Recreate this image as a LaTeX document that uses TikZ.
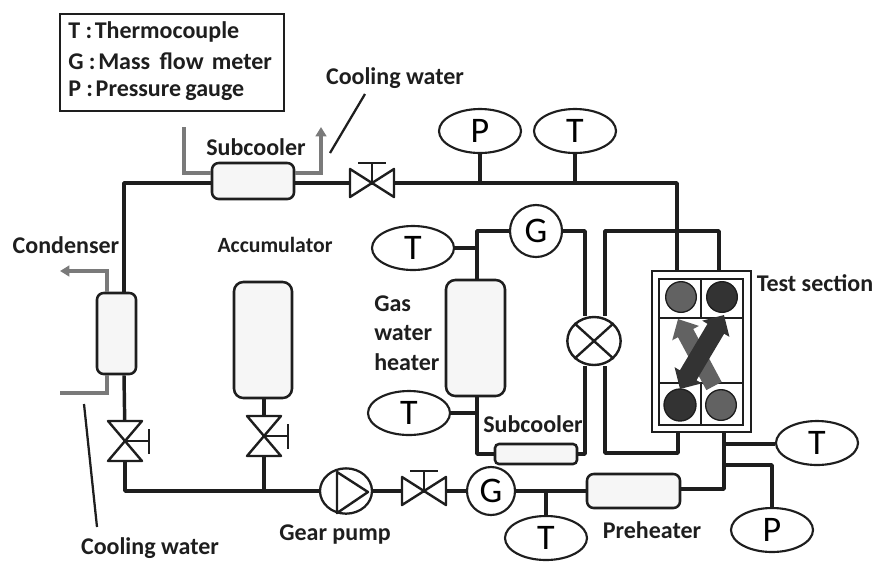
\documentclass[tikz,border=0pt]{standalone}
\usepackage{fontspec}
\setmainfont{Carlito}
\usetikzlibrary{shapes.geometric,arrows.meta}
\definecolor{ink}{HTML}{1E1E1E}
\definecolor{coolgray}{HTML}{7A7A7A}
\definecolor{boxfill}{HTML}{F6F6F6}
\definecolor{darkdot}{HTML}{333333}
\definecolor{graydot}{HTML}{626262}
\tikzset{
  x=0.75pt,y=-0.75pt,
  pipe/.style={draw=ink,line width=2.6pt,line join=round},
  thin pipe/.style={draw=ink,line width=1.8pt,line join=round},
  cool/.style={draw=coolgray,line width=2.3pt,line join=miter},
  coolarrow/.style={cool,-{Triangle[length=7pt,width=8pt]}},
  leader/.style={draw=ink,line width=1.7pt},
  vessel/.style={draw=ink,line width=1.9pt,fill=boxfill,rounded corners=5pt,inner sep=0pt,anchor=center},
  gauge/.style={ellipse,draw=ink,line width=1.6pt,fill=white,inner sep=0pt,minimum width=61.5pt,minimum height=33pt,font=\fontsize{27}{27}\selectfont},
  meter/.style={circle,draw=ink,line width=1.6pt,fill=white,inner sep=0pt,minimum size=36pt,font=\fontsize{27}{27}\selectfont},
  label/.style={font=\bfseries\fontsize{18}{18}\selectfont,text=ink,inner sep=0pt},
  dot/.style={circle,inner sep=0pt,minimum size=23pt,draw=ink,line width=1pt},
  hvalve/.pic={
    \draw[thin pipe,fill=white] (-22,-14) -- (22,14) -- (22,-14) -- (-22,14) -- cycle;
    \draw[thin pipe] (0,0) -- (0,-20) (-14,-20) -- (14,-20);
  },
  vvalve/.pic={
    \draw[thin pipe,fill=white] (-17,-20) -- (17,20) -- (-17,20) -- (17,-20) -- cycle;
    \draw[thin pipe] (0,0) -- (24,0) (24,-12) -- (24,13);
  }
}
\begin{document}
\begin{tikzpicture}
\useasboundingbox (0,0) rectangle (873,562);

% legend
\node[draw=ink,line width=1.8pt,minimum width=168pt,minimum height=72.75pt,inner sep=0pt] (legend) at (172,62.5) {};
\node[label,anchor=west] (lt) at (68,32) {T :\hspace{2pt}Thermocouple};
\node[label,anchor=west] (lg) at (68,61.5) {G :\hspace{2pt}Mass\hspace{3pt} flow\hspace{2pt} meter};
\node[label,anchor=west] (lp) at (68,90.5) {P :\hspace{2pt}Pressure\hspace{-1pt} gauge};

% coordinates of the pipe run
\coordinate (tl) at (124,183);
\coordinate (bl) at (125,491);
\coordinate (hvA) at (372,183);
\coordinate (hvB) at (424,491);
\coordinate (vvA) at (125,441);
\coordinate (vvB) at (264,436);
\coordinate (jP) at (480,183);
\coordinate (jT) at (575,183);
\coordinate (jAcc) at (264,491);
\coordinate (jT3) at (546,491);

% vessels
\node[vessel,minimum width=61.5pt,minimum height=27pt] (sub1) at (253,181) {};
\node[vessel,minimum width=29.25pt,minimum height=60.75pt] (cond) at (116.5,333.5) {};
\node[vessel,minimum width=43.5pt,minimum height=87pt,rounded corners=7pt] (acc) at (263,340) {};
\node[vessel,minimum width=44.25pt,minimum height=87pt,rounded corners=7pt] (heater) at (475.5,338) {};
\node[vessel,minimum width=61.5pt,minimum height=15pt,rounded corners=3pt] (sub2) at (536,454) {};
\node[vessel,minimum width=69.75pt,minimum height=25.5pt] (pre) at (633.5,491) {};

% gauges
\node[gauge] (Ptop) at (480,131) {P};
\node[gauge] (Ttop) at (575,131) {T};
\node[gauge] (Th1) at (413,248) {T};
\node[gauge] (Th2) at (409,413) {T};
\node[gauge] (Tout) at (817,443) {T};
\node[gauge] (Pout) at (772,530) {P};
\node[gauge] (Tin) at (546,538) {T};
\node[meter,minimum size=39pt] (G1) at (536,231) {G};
\node[meter] (G2) at (491,491) {G};

% three-way valve and pump
\node[ellipse,draw=ink,line width=1.8pt,fill=white,minimum width=40pt,minimum height=36pt,inner sep=0pt] (mix) at (594,341) {};
\node[ellipse,draw=ink,line width=1.7pt,fill=white,minimum width=39pt,minimum height=34pt,inner sep=0pt] (pump) at (346,491) {};

% test section
\node[draw=ink,line width=1.9pt,minimum width=74.25pt,minimum height=120.75pt,inner sep=0pt] (ts) at (701.5,351.5) {};
\node[draw=ink,line width=1.6pt,minimum width=63pt,minimum height=109.5pt,inner sep=0pt] (tsi) at (701,352) {};
\coordinate (ti1) at (659,318);
\coordinate (ti2) at (743,318);
\coordinate (ti3) at (659,383);
\coordinate (ti4) at (743,383);
\coordinate (tv1) at (701,279);
\coordinate (tv2) at (701,318);
\coordinate (tv3) at (701,383);
\coordinate (tv4) at (701,425);
\draw[thin pipe] (ti1) -- (ti2) (ti3) -- (ti4) (tv1) -- (tv2) (tv3) -- (tv4);
\node[dot,fill=graydot] (c1) at (681,297) {};
\node[dot,fill=darkdot] (c2) at (722,297) {};
\node[dot,fill=darkdot,minimum size=24pt] (c3) at (680,405) {};
\node[dot,fill=graydot] (c4) at (721,405) {};
\coordinate (ga) at (714,386);
\coordinate (gb) at (678,319);
\coordinate (da) at (724,315);
\coordinate (db) at (680,389);
\draw[draw=graydot,line width=13pt,-{Triangle[length=12pt,width=22pt]}] (ga) -- (gb);
\draw[draw=darkdot,line width=14.5pt,{Triangle[length=12pt,width=23pt]}-{Triangle[length=12pt,width=23pt]}] (da) -- (db);

% main loop
\draw[pipe] (cond.north -| tl) -- (tl) -- (tl -| sub1.west);
\draw[pipe] (tl -| sub1.east) -- (hvA);
\draw[pipe] (hvA) -- (677,183) -- (ts.north -| 677,183);
\draw[pipe] (Ptop.south) -- (jP);
\draw[pipe] (Ttop.south) -- (jT);
\draw[pipe] (cond.south -| tl) -- (vvA);
\draw[pipe] (vvA) -- (bl) -- (pump.west);
\draw[pipe] (acc.south -| vvB) -- (vvB);
\draw[pipe] (vvB) -- (jAcc);
\draw[pipe] (pump.east) -- (hvB);
\draw[pipe] (hvB) -- (G2.west);
\draw[pipe] (G2.east) -- (pre.west);
\draw[pipe] (Tin.north) -- (jT3);
\coordinate (rr) at (724,489);
\draw[pipe] (pre.east |- rr) -- (rr) -- (ts.south -| rr);
\coordinate (jr1) at (724,444);
\coordinate (jr2) at (724,465);
\draw[pipe] (jr1) -- (Tout.west |- jr1);
\draw[pipe] (jr2) -- (772,465) -- (Pout.north);

% gas water heater loop
\coordinate (g1) at (477,231);
\coordinate (g2) at (585,231);
\coordinate (g3) at (585,454);
\coordinate (g4) at (477,454);
\draw[pipe] (heater.north -| g1) -- (g1) -- (G1.west);
\draw[pipe] (G1.east) -- (g2) -- (g2 |- mix.north);
\draw[pipe] (g2 |- mix.south) -- (g3) -- (sub2.east);
\draw[pipe] (sub2.west) -- (g4) -- (heater.south -| g4);
\draw[pipe] (Th1.east) -- (g1 |- Th1);
\draw[pipe] (Th2.east) -- (g4 |- Th2);
\coordinate (h1) at (605,231);
\coordinate (h2) at (719,231);
\coordinate (h3) at (605,453);
\coordinate (h4) at (678,453);
\draw[pipe] (ts.north -| h2) -- (h2) -- (h1) -- (h1 |- mix.north);
\draw[pipe] (h1 |- mix.south) -- (h3) -- (h4) -- (ts.south -| h4);

% valve symbols
\pic at (hvA) {hvalve};
\pic at (hvB) {hvalve};
\pic at (vvA) {vvalve};
\pic at (vvB) {vvalve};
\draw[thin pipe] (mix.north west) -- (mix.south east) (mix.north east) -- (mix.south west);
\draw[thin pipe] (337,472) -- (368,492) -- (337,513) -- cycle;

% cooling water lines
\coordinate (ca) at (184,127);
\coordinate (cb) at (184,173);
\coordinate (cc) at (321,173);
\coordinate (cd) at (321,127);
\draw[cool] (ca) -- (cb) -- (sub1.west |- cb);
\draw[coolarrow] (sub1.east |- cc) -- (cc) -- (cd);
\coordinate (ce) at (107,271);
\coordinate (cf) at (60,271);
\coordinate (cg) at (107,393);
\coordinate (ch) at (60,393);
\draw[coolarrow] (ce |- cond.north) -- (ce) -- (cf);
\draw[cool] (cg |- cond.south) -- (cg) -- (ch);

% labels
\node[label] (lcw1) at (395,78) {Cooling water};
\node[label] (lcw2) at (150,548) {Cooling water};
\node[label] at (256,147) {Subcooler};
\node[label] at (66,245) {Condenser};
\node[label,font=\bfseries\fontsize{16.3}{16.3}\selectfont] at (275,245) {Accumulator};
\node[label,anchor=west] at (374,304) {Gas};
\node[label,anchor=west] at (374,333) {water};
\node[label,anchor=west] at (374,362) {heater};
\node[label] at (533,424) {Subcooler};
\node[label] at (815,283) {Test section};
\node[label] at (335,535) {Gear pump};
\node[label] at (652,530) {Preheater};

% leaders
\coordinate (la) at (365,94);
\coordinate (lb) at (330,153);
\coordinate (lc) at (84,404);
\coordinate (ld) at (97,527);
\draw[leader] (la) -- (lb);
\draw[leader] (lc) -- (ld);
\end{tikzpicture}
\end{document}
